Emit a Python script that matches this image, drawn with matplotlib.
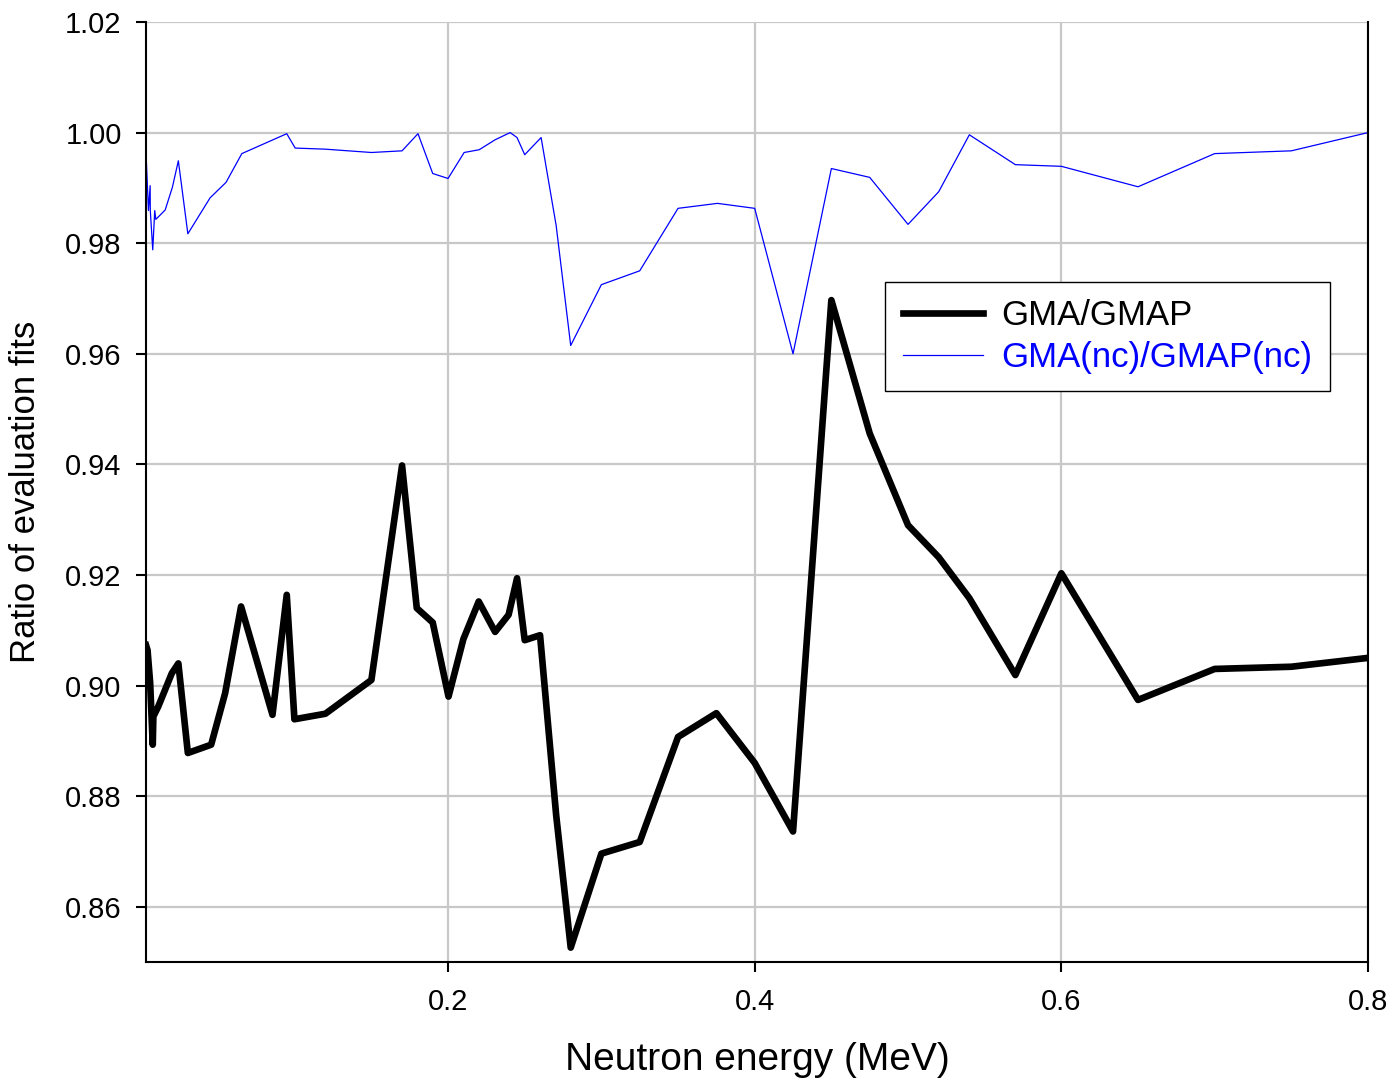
import matplotlib
matplotlib.use("Agg")
import matplotlib.pyplot as plt

plt.rcParams['font.family'] = ['Liberation Sans', 'DejaVu Sans']

# GMA/GMAP ratio (thick black)
e_gma = [0.003, 0.004, 0.0057, 0.0074, 0.0078, 0.011, 0.0198, 0.0241, 0.0303,
         0.0455, 0.0546, 0.065, 0.0855, 0.0948, 0.0998, 0.12, 0.15, 0.17,
         0.1796, 0.19, 0.2003, 0.21, 0.22, 0.2307, 0.2395, 0.245, 0.25, 0.26,
         0.2705, 0.28, 0.30, 0.325, 0.35, 0.375, 0.40, 0.425, 0.45, 0.475,
         0.50, 0.52, 0.54, 0.57, 0.60, 0.65, 0.70, 0.75, 0.80]
r_gma = [0.9073, 0.9064, 0.9005, 0.8893, 0.8944, 0.8962, 0.9022, 0.9040, 0.8878,
         0.8893, 0.8986, 0.9143, 0.8947, 0.9164, 0.8939, 0.8949, 0.9010, 0.9398,
         0.9140, 0.9114, 0.8980, 0.9084, 0.9152, 0.9097, 0.9128, 0.9194, 0.9082, 0.9091,
         0.8766, 0.8526, 0.8696, 0.8717, 0.8907, 0.8950, 0.8860, 0.8736, 0.9697, 0.9456,
         0.9290, 0.9232, 0.9158, 0.9019, 0.9203, 0.8974, 0.9030, 0.9034, 0.9050]

# GMA(nc)/GMAP(nc) ratio (thin blue)
e_nc = [0.003, 0.0046, 0.0057, 0.0058, 0.0074, 0.0087, 0.0094, 0.0155, 0.0202,
        0.0241, 0.0303, 0.0448, 0.0552, 0.0655, 0.0948, 0.1003, 0.12, 0.15,
        0.17, 0.1804, 0.19, 0.20, 0.2105, 0.2203, 0.2307, 0.2405, 0.245, 0.25,
        0.2607, 0.2705, 0.28, 0.30, 0.325, 0.35, 0.3757, 0.40, 0.425, 0.45,
        0.475, 0.50, 0.52, 0.54, 0.57, 0.60, 0.65, 0.70, 0.75, 0.80]
r_nc = [0.9964, 0.9859, 0.9904, 0.9859, 0.9788, 0.9859, 0.9843, 0.9860, 0.9901,
        0.9949, 0.9817, 0.9882, 0.9910, 0.9962, 0.9998, 0.9972, 0.9970, 0.9964,
        0.9967, 0.9998, 0.9926, 0.9917, 0.9964, 0.9969, 0.9987, 1.0000, 0.9991, 0.9960,
        0.9991, 0.9832, 0.9615, 0.9725, 0.9750, 0.9863, 0.9872, 0.9863, 0.9600, 0.9935,
        0.9919, 0.9834, 0.9893, 0.9996, 0.9942, 0.9939, 0.9902, 0.9962, 0.9967, 1.0000]

x_ticks = [0.2, 0.4, 0.6, 0.8]
y_ticks = [0.86, 0.88, 0.90, 0.92, 0.94, 0.96, 0.98, 1.00, 1.02]

fig = plt.figure(figsize=(13.95, 10.82), dpi=100)
ax = fig.add_axes([146 / 1395, 1 - 962 / 1082, 1222 / 1395, 940 / 1082])

ax.plot(e_gma, r_gma, color='black', lw=4.8, label='GMA/GMAP')
ax.plot(e_nc, r_nc, color='blue', lw=0.9, label='GMA(nc)/GMAP(nc)')

ax.set_xlim(0.003, 0.8)
ax.set_ylim(0.85, 1.02)
ax.set_xticks(x_ticks)
ax.set_xticklabels(['0.2', '0.4', '0.6', '0.8'])
ax.set_yticks(y_ticks)
ax.set_yticklabels(['%.2f' % v for v in y_ticks])

ax.grid(True, color='#c8c8c8', lw=1.6)
ax.set_axisbelow(True)
for s in ['left', 'bottom', 'right']:
    ax.spines[s].set_linewidth(1.5)
ax.spines['top'].set_visible(False)

ax.tick_params(axis='both', direction='out', length=7.5, width=1.5, labelsize=21)
ax.tick_params(axis='y', pad=10)
ax.tick_params(axis='x', pad=11)

ax.set_xlabel('Neutron energy (MeV)', fontsize=28)
ax.xaxis.set_label_coords(0.5, -0.085)
ax.set_ylabel('Ratio of evaluation fits', fontsize=25)
ax.yaxis.set_label_coords(-0.085, 0.5)

leg = ax.legend(loc='upper left', bbox_to_anchor=(0.605, 0.7234), fontsize=25,
                fancybox=False, framealpha=1, edgecolor='black', handlelength=2.3,
                borderpad=0.5, labelspacing=0.25, borderaxespad=0, handletextpad=0.55)
leg.get_frame().set_linewidth(1.0)
for txt, ln in zip(leg.get_texts(), leg.get_lines()):
    txt.set_color(ln.get_color())

fig.savefig('out.png', dpi=100)
